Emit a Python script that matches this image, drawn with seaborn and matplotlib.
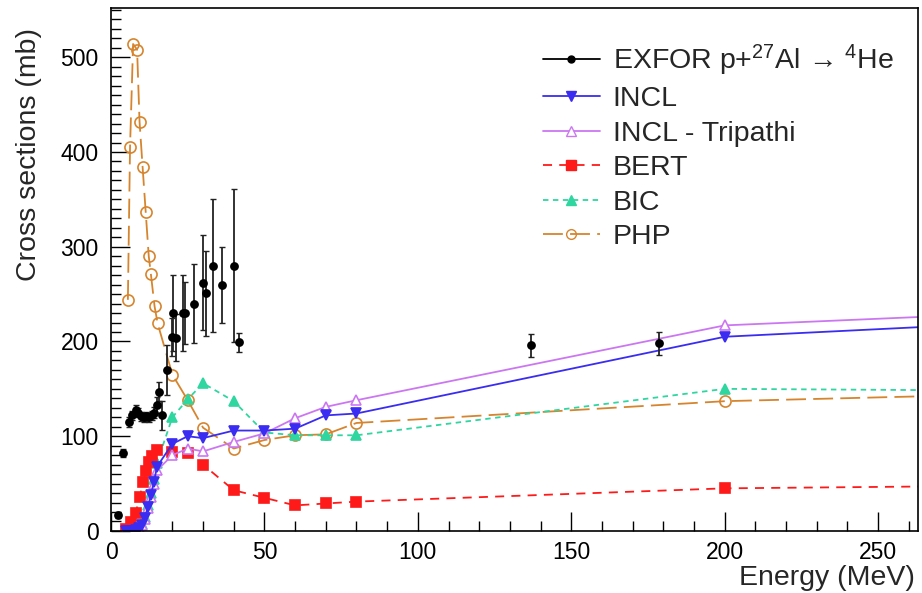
import numpy as np
import pandas as pd
import matplotlib
matplotlib.use("Agg")
import matplotlib.pyplot as plt
from matplotlib.ticker import MultipleLocator
from matplotlib.lines import Line2D
import seaborn as sns

# ---------------- data ----------------
exfor_e = [2.3, 3.9, 6.0, 7.0, 8.0, 8.8, 9.7, 10.6, 11.5, 12.4, 13.3, 14.1, 15.0, 15.8, 16.6, 18.4,
           19.9, 21.2, 20.2, 23.5, 24.1, 27.0, 30.0, 30.9, 33.2, 36.2, 40.1, 41.7, 136.8, 178.5]
exfor_xs = [17, 82, 115, 122, 128, 125, 121, 120, 121, 120, 122, 125, 133, 147, 122, 170,
            205, 204, 230, 230, 230, 240, 262, 251, 280, 260, 280, 199, 196, 198]
exfor_err = [3, 4, 5, 5, 5, 5, 5, 5, 5, 5, 5, 6, 8, 10, 15, 26,
             20, 25, 40, 40, 33, 42, 50, 45, 70, 40, 81, 10, 12, 12]

model_e = [5, 6, 7, 8, 9, 10, 11, 12, 13, 14, 15, 20, 25, 30, 40, 50, 60, 70, 80, 200, 300]
incl_xs = [0, 0, 0, 1, 3, 6, 14, 25, 38, 52, 68, 92, 100, 98, 106, 106, 108, 122, 124, 205, 221]
tripathi_xs = [0, 0, 0, 1, 3, 6, 13, 24, 36, 50, 64, 80, 87, 84, 94, 103, 119, 131, 138, 217, 231]
bic_xs = [0, 0, 0, 1, 3, 7, 15, 27, 40, 55, 72, 120, 139, 156, 137, 104, 101, 101, 101, 150, 148]

bert_e = [5, 6.5, 8, 9.4, 10.4, 11.4, 12.5, 13.5, 15, 20, 25, 30, 40, 50, 60, 70, 80, 200, 300]
bert_xs = [2, 9, 19, 36, 52, 63, 73, 79, 85, 83, 82, 70, 43, 35, 27, 29, 31, 45, 48]

php_e = [5.5, 6.2, 7.2, 8.5, 9.3, 10.3, 11.3, 12.3, 13.0, 14.2, 15.2, 20, 25, 30, 40, 50, 60, 70, 80, 200, 300]
php_xs = [244, 405, 514, 508, 432, 384, 337, 290, 271, 237, 219, 165, 138, 109, 87, 96, 101, 102, 114, 137, 145]

labels = ["EXFOR p+$^{27}$Al → $^{4}$He", "INCL", "INCL - Tripathi", "BERT", "BIC", "PHP"]

# ---------------- style ----------------
sns.set_style("white")
plt.rcParams["font.family"] = ["Liberation Sans", "DejaVu Sans"]
plt.rcParams["mathtext.fontset"] = "custom"
plt.rcParams["mathtext.rm"] = "Liberation Sans"
plt.rcParams["mathtext.it"] = "Liberation Sans:italic"

fig = plt.figure(figsize=(9.22, 5.93), dpi=100)
ax = fig.add_axes([0.1204, 0.1046, 0.8753, 0.8819])

c_incl = "#3a2cf0"
c_trip = "#cc77f2"
c_bert = "#ff1a1a"
c_bic = "#2fd6a0"
c_php = "#d6852e"

def model(x, y, color, marker, label, mfc=None, ms=7, dashes=None):
    df = pd.DataFrame({"E": x, "xs": y})
    sns.lineplot(data=df, x="E", y="xs", ax=ax, color=color, lw=1.3,
                 estimator=None, sort=False, legend=False)
    line = ax.lines[-1]
    line.set_marker(marker)
    line.set_markersize(ms)
    line.set_markerfacecolor(mfc if mfc is not None else color)
    line.set_markeredgecolor(color)
    line.set_markeredgewidth(1.2)
    if dashes is not None:
        line.set_dashes(dashes)
    line.set_label(label)
    return line

# EXFOR
ax.errorbar(exfor_e, exfor_xs, yerr=exfor_err, fmt="none", ecolor="#222222",
            elinewidth=1.3, capsize=2, capthick=1.0, zorder=5)
df_ex = pd.DataFrame({"E": exfor_e, "xs": exfor_xs})
sns.scatterplot(data=df_ex, x="E", y="xs", ax=ax, color="black", s=40,
                edgecolor="black", linewidth=0, zorder=6, legend=False)

model(php_e, php_xs, c_php, "o", labels[5], mfc="none", ms=8, dashes=(11, 4))
model(model_e, bic_xs, c_bic, "^", labels[4], dashes=(3, 2.5))
model(bert_e, bert_xs, c_bert, "s", labels[3], dashes=(5, 4))
model(model_e, tripathi_xs, c_trip, "^", labels[2], mfc="white")
model(model_e, incl_xs, c_incl, "v", labels[1])

# legend handles
leg_h = [Line2D([], [], color="black", lw=1.3, marker="o", ms=5, mfc="black"),
         Line2D([], [], color=c_incl, lw=1.3, marker="v", ms=7, mfc=c_incl, mec=c_incl),
         Line2D([], [], color=c_trip, lw=1.3, marker="^", ms=7, mfc="white", mec=c_trip),
         Line2D([], [], color=c_bert, lw=1.3, marker="s", ms=7, mfc=c_bert, mec=c_bert, dashes=(5, 4)),
         Line2D([], [], color=c_bic, lw=1.3, marker="^", ms=7, mfc=c_bic, mec=c_bic, dashes=(3, 2.5)),
         Line2D([], [], color=c_php, lw=1.3, marker="o", ms=7, mfc="none", mec=c_php, dashes=(11, 4))]
ax.legend(leg_h, labels, loc="upper left", bbox_to_anchor=(0.535, 0.934), frameon=False,
          fontsize=20.5, handlelength=2.0, handletextpad=0.45, labelspacing=0.30,
          borderaxespad=0, borderpad=0)

# axes
ax.set_xlim(0, 263)
ax.set_ylim(0, 552)
ax.xaxis.set_major_locator(MultipleLocator(50))
ax.xaxis.set_minor_locator(MultipleLocator(10))
ax.yaxis.set_major_locator(MultipleLocator(100))
ax.yaxis.set_minor_locator(MultipleLocator(10))
ax.tick_params(axis="both", which="both", direction="in", bottom=True, left=True,
               top=False, right=False, colors="black")
ax.tick_params(axis="both", which="major", length=14, width=1.0, labelsize=16.5)
ax.tick_params(axis="both", which="minor", length=7, width=1.0)
ax.tick_params(axis="x", which="major", pad=7)
ax.tick_params(axis="y", which="major", pad=9)
for s in ax.spines.values():
    s.set_color("black")
    s.set_linewidth(1.2)

ax.set_xlabel("Energy (MeV)", fontsize=20.5, ha="right")
ax.xaxis.set_label_coords(0.996, -0.065, transform=ax.transAxes)
ax.xaxis.label.set_va("top")
ax.set_ylabel("Cross sections (mb)", fontsize=20.5, ha="right")
ax.yaxis.set_label_coords(-0.086, 0.962, transform=ax.transAxes)

fig.savefig("out.png", dpi=100)
